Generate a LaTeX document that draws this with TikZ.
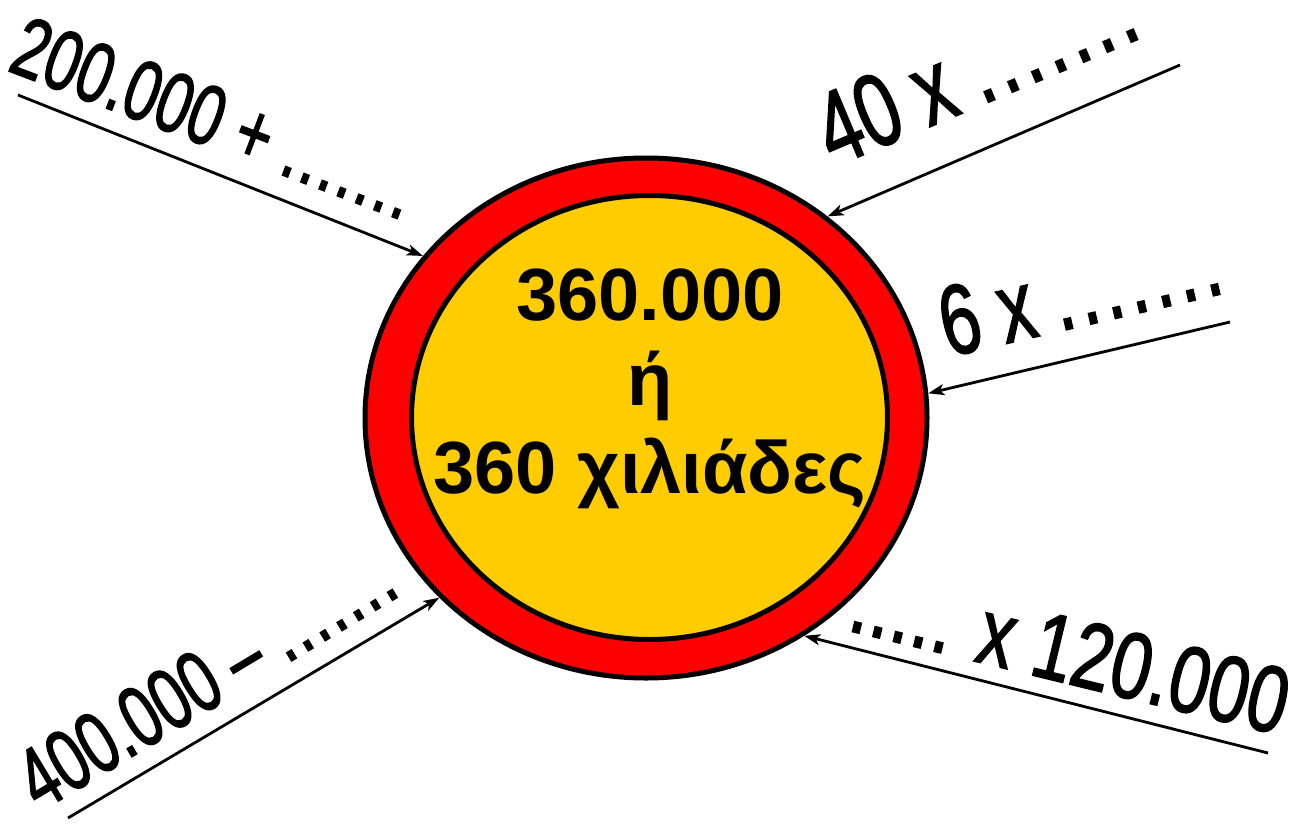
\documentclass[tikz,border=0pt]{standalone}
\usepackage{fontspec}
\setmainfont{Liberation Sans}
\newfontfamily\lblfont{Liberation Sans}[FakeBold=1.8]
\usetikzlibrary{shapes.geometric,arrows.meta}
\definecolor{ringred}{HTML}{FF0000}
\definecolor{discyellow}{HTML}{FFCC00}
\newcommand{\sevdots}[1]{.\kern#1.\kern#1.\kern#1.\kern#1.\kern#1.\kern#1.}
\newcommand{\fivdots}[1]{.\kern#1.\kern#1.\kern#1.\kern#1.}
\tikzset{
  lbl/.style={rotate=#1, anchor=base west, inner sep=0pt, outer sep=0pt},
  arr/.style={-{Stealth[length=16pt,width=11pt,inset=4pt]}, line width=2.8pt},
  ctext/.style={anchor=base, inner sep=0pt, font=\fontsize{74}{80}\selectfont\bfseries}
}
\begin{document}
\begin{tikzpicture}[x=1pt,y=-1pt]
\useasboundingbox (0,0) rectangle (1307,825);
% ellipses
\node[ellipse, draw, line width=5pt, fill=ringred, minimum width=562pt, minimum height=520pt, inner sep=0pt] (outer) at (646,418) {};
\node[ellipse, draw, line width=5pt, fill=discyellow, minimum width=476pt, minimum height=444pt, inner sep=0pt] (inner) at (649.5,417.5) {};
% central text
\node[ctext] (t1) at (650,320) {360.000};
\node[ctext] (t2) at (650,405) {ή};
\node[ctext] (t3) at (650,493) {360 χιλιάδες};
% labels
\node[lbl=-20.8] (l1) at (6,70) {\scalebox{0.718}[1]{\fontsize{85}{85}\lblfont 200.000 + \sevdots{0.042em}}};
\node[lbl=22.8] (l2) at (834,167) {\scalebox{0.72}[1]{\fontsize{103}{103}\lblfont 40 x \sevdots{0.07em}}};
\node[lbl=13] (l3) at (948,357) {\scalebox{0.72}[1]{\fontsize{99}{99}\lblfont 6 x \sevdots{0.075em}}};
\node[lbl=31] (l4) at (40,812) {\scalebox{0.70}[1]{\fontsize{87}{87}\lblfont 400.000 – \sevdots{0.044em}}};
\node[lbl=-13.6] (l5) at (846,630) {\scalebox{0.765}[1]{\fontsize{94}{94}\lblfont \fivdots{0.014em} x 120.000}};
% arrows
\coordinate (s1) at (18,95);
\coordinate (s2) at (1180,65);
\coordinate (s3) at (1230,322);
\coordinate (s4) at (68,818);
\coordinate (s5) at (1268,753);
\draw[arr] (s1) -- (outer.144.6);
\draw[arr] (s2) -- (outer.48.9);
\draw[arr] (s3) -- (outer.5);
\draw[arr] (s4) -- (outer.221.6);
\draw[arr] (s5) -- (outer.306.7);
\end{tikzpicture}
\end{document}
